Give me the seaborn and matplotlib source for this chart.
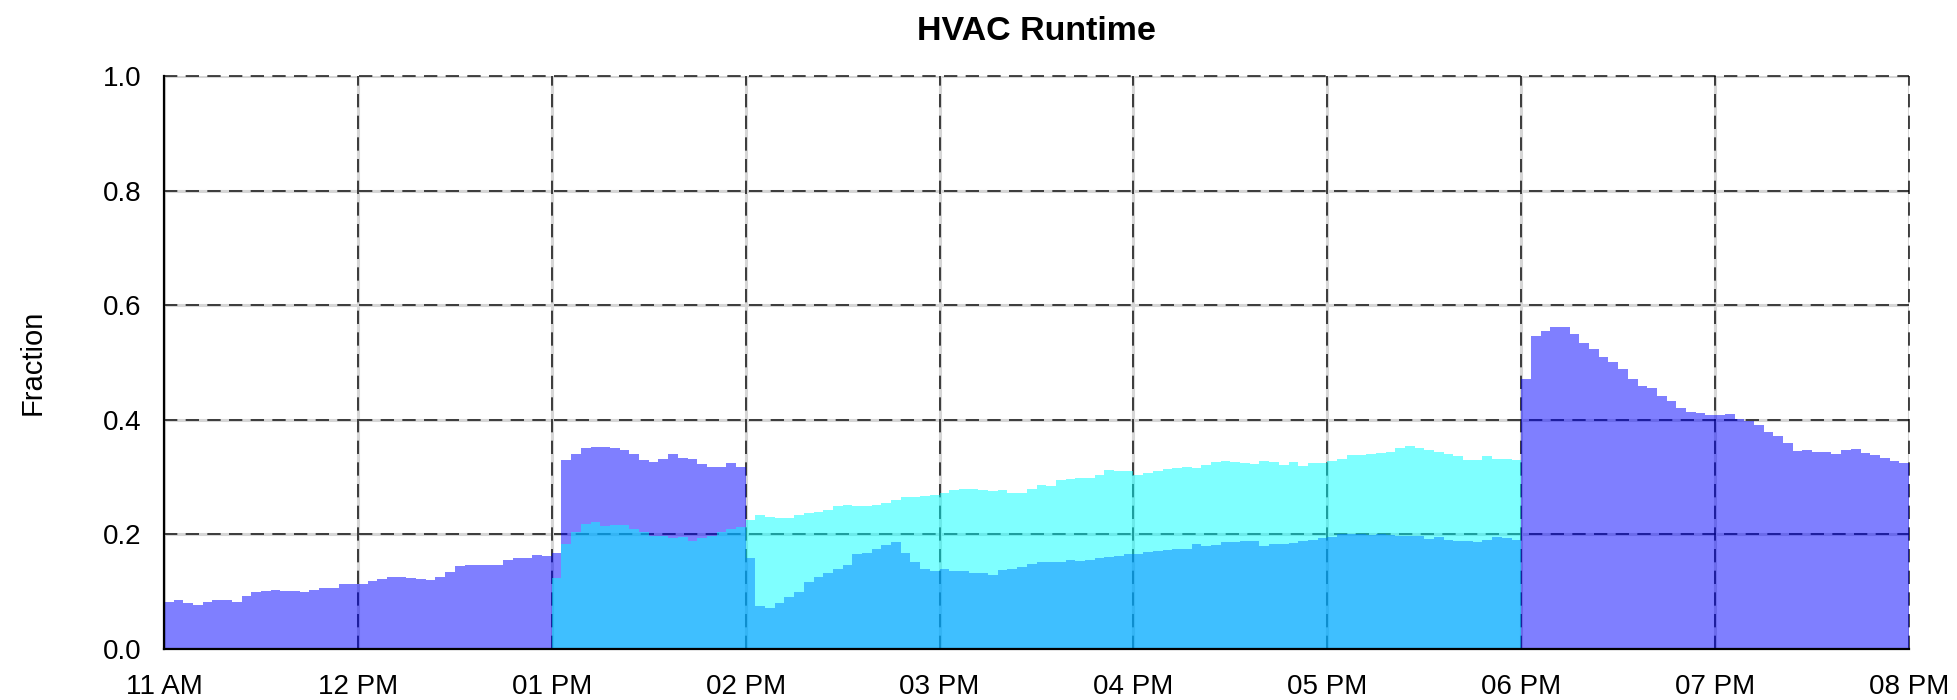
import numpy as np
import pandas as pd
import matplotlib
matplotlib.use("Agg")
import matplotlib.pyplot as plt
import seaborn as sns

# ---------------- data ----------------
title = "HVAC Runtime"
y_label = "Fraction"
tick_labels = ["11 AM", "12 PM", "01 PM", "02 PM", "03 PM",
               "04 PM", "05 PM", "06 PM", "07 PM", "08 PM"]
y_ticks = [0.0, 0.2, 0.4, 0.6, 0.8, 1.0]
bin_minutes = 3          # width of each runtime bin
heat_start = 0           # hours after 11 AM
cool_start = 2           # hours after 11 AM (01 PM)

heat = [
    # 11 AM
    0.082, 0.085, 0.080, 0.077, 0.082, 0.085, 0.086, 0.082, 0.093, 0.099,
    0.101, 0.103, 0.102, 0.101, 0.100, 0.103, 0.106, 0.107, 0.113, 0.113,
    # 12 PM
    0.114, 0.119, 0.123, 0.125, 0.125, 0.124, 0.123, 0.121, 0.125, 0.135,
    0.145, 0.147, 0.147, 0.147, 0.147, 0.155, 0.158, 0.158, 0.164, 0.162,
    # 01 PM
    0.168, 0.330, 0.340, 0.350, 0.353, 0.352, 0.350, 0.347, 0.340, 0.329,
    0.326, 0.332, 0.340, 0.334, 0.332, 0.322, 0.318, 0.317, 0.325, 0.317,
    # 02 PM
    0.158, 0.075, 0.072, 0.081, 0.090, 0.099, 0.117, 0.126, 0.132, 0.139,
    0.146, 0.166, 0.168, 0.175, 0.181, 0.187, 0.168, 0.152, 0.140, 0.136,
    # 03 PM
    0.139, 0.136, 0.136, 0.133, 0.132, 0.130, 0.137, 0.140, 0.143, 0.149,
    0.152, 0.151, 0.152, 0.156, 0.153, 0.155, 0.158, 0.161, 0.163, 0.166,
    # 04 PM
    0.165, 0.170, 0.171, 0.173, 0.174, 0.175, 0.183, 0.180, 0.181, 0.186,
    0.187, 0.188, 0.188, 0.179, 0.183, 0.183, 0.185, 0.188, 0.191, 0.193,
    # 05 PM
    0.195, 0.201, 0.201, 0.200, 0.199, 0.200, 0.199, 0.198, 0.198, 0.198,
    0.192, 0.195, 0.190, 0.189, 0.188, 0.187, 0.191, 0.195, 0.194, 0.191,
    # 06 PM
    0.472, 0.546, 0.555, 0.562, 0.562, 0.550, 0.534, 0.524, 0.510, 0.501,
    0.488, 0.471, 0.459, 0.455, 0.441, 0.432, 0.421, 0.414, 0.411, 0.409,
    # 07 PM
    0.409, 0.410, 0.402, 0.398, 0.391, 0.379, 0.371, 0.359, 0.345, 0.348,
    0.344, 0.343, 0.340, 0.347, 0.349, 0.342, 0.339, 0.334, 0.328, 0.325,
]

cool = [
    # 01 PM
    0.124, 0.184, 0.204, 0.218, 0.221, 0.214, 0.216, 0.216, 0.209, 0.204,
    0.198, 0.197, 0.194, 0.195, 0.188, 0.194, 0.198, 0.204, 0.210, 0.213,
    # 02 PM
    0.226, 0.234, 0.231, 0.229, 0.228, 0.234, 0.238, 0.239, 0.242, 0.249,
    0.252, 0.249, 0.249, 0.252, 0.254, 0.260, 0.266, 0.265, 0.267, 0.268,
    # 03 PM
    0.272, 0.278, 0.279, 0.279, 0.277, 0.275, 0.278, 0.272, 0.272, 0.279,
    0.286, 0.284, 0.295, 0.297, 0.298, 0.299, 0.303, 0.312, 0.311, 0.310,
    # 04 PM
    0.303, 0.307, 0.310, 0.314, 0.316, 0.318, 0.316, 0.321, 0.326, 0.328,
    0.326, 0.324, 0.323, 0.328, 0.327, 0.321, 0.326, 0.320, 0.324, 0.325,
    # 05 PM
    0.328, 0.332, 0.339, 0.339, 0.341, 0.342, 0.343, 0.350, 0.354, 0.351,
    0.347, 0.344, 0.340, 0.337, 0.330, 0.330, 0.336, 0.332, 0.332, 0.330,
]

heat_color = "#0000ff"
cool_color = "#00ffff"

# ---------------- style ----------------
sns.set_theme(style="white")
plt.rcParams["font.family"] = ["Liberation Sans", "DejaVu Sans"]

W, H = 1957, 700
fig = plt.figure(figsize=(W / 100, H / 100), dpi=100)
ax = fig.add_axes([164 / W, (H - 649) / H, (1909 - 164) / W, (649 - 76) / H])

bw = bin_minutes / 60.0


def draw(values, start, color):
    n = len(values)
    df = pd.DataFrame({
        "hour": start + (np.arange(n) + 0.5) * bw,
        "frac": np.asarray(values, dtype=float),
    })
    sns.histplot(data=df, x="hour", weights="frac", bins=n,
                 binrange=(start, start + n * bw), element="step",
                 fill=True, color=color, alpha=0.5, linewidth=0, ax=ax)


draw(heat, heat_start, heat_color)
draw(cool, cool_start, cool_color)

xt = np.arange(len(tick_labels))
ax.set_xlim(xt[0], xt[-1])
ax.set_ylim(y_ticks[0], y_ticks[-1])
ax.set_xticks(xt)
ax.set_xticklabels(tick_labels)
ax.set_yticks(y_ticks)
ax.set_yticklabels([f"{v:.1f}" for v in y_ticks])

# grid: light grey band under black dashes
ax.set_axisbelow(True)
ax.grid(True, color="#d6d6d6", linewidth=2.2, linestyle="-")
for t in xt[1:]:
    ax.axvline(t, color="black", lw=1.2, ls=(0, (8, 5)), alpha=0.85,
               zorder=0.8, clip_on=False)
for v in y_ticks[1:]:
    ax.axhline(v, color="black", lw=1.2, ls=(0, (8, 5)), alpha=0.85,
               zorder=0.8, clip_on=False)

sns.despine(ax=ax)
for s in ("left", "bottom"):
    ax.spines[s].set_color("black")
    ax.spines[s].set_linewidth(1.6)
    ax.spines[s].set_zorder(3)

ax.tick_params(axis="both", direction="out", length=10, width=1.8,
               color="black", labelcolor="black", labelsize=20, pad=6)
ax.tick_params(axis="x", length=11, pad=7)

ax.set_ylabel(y_label, fontsize=21, color="black")
ax.yaxis.set_label_coords(-0.067, 0.5)
ax.set_xlabel("")
ax.set_title(title, fontsize=24.5, fontweight="bold", color="black", pad=26)

fig.savefig("out.png", dpi=100)
